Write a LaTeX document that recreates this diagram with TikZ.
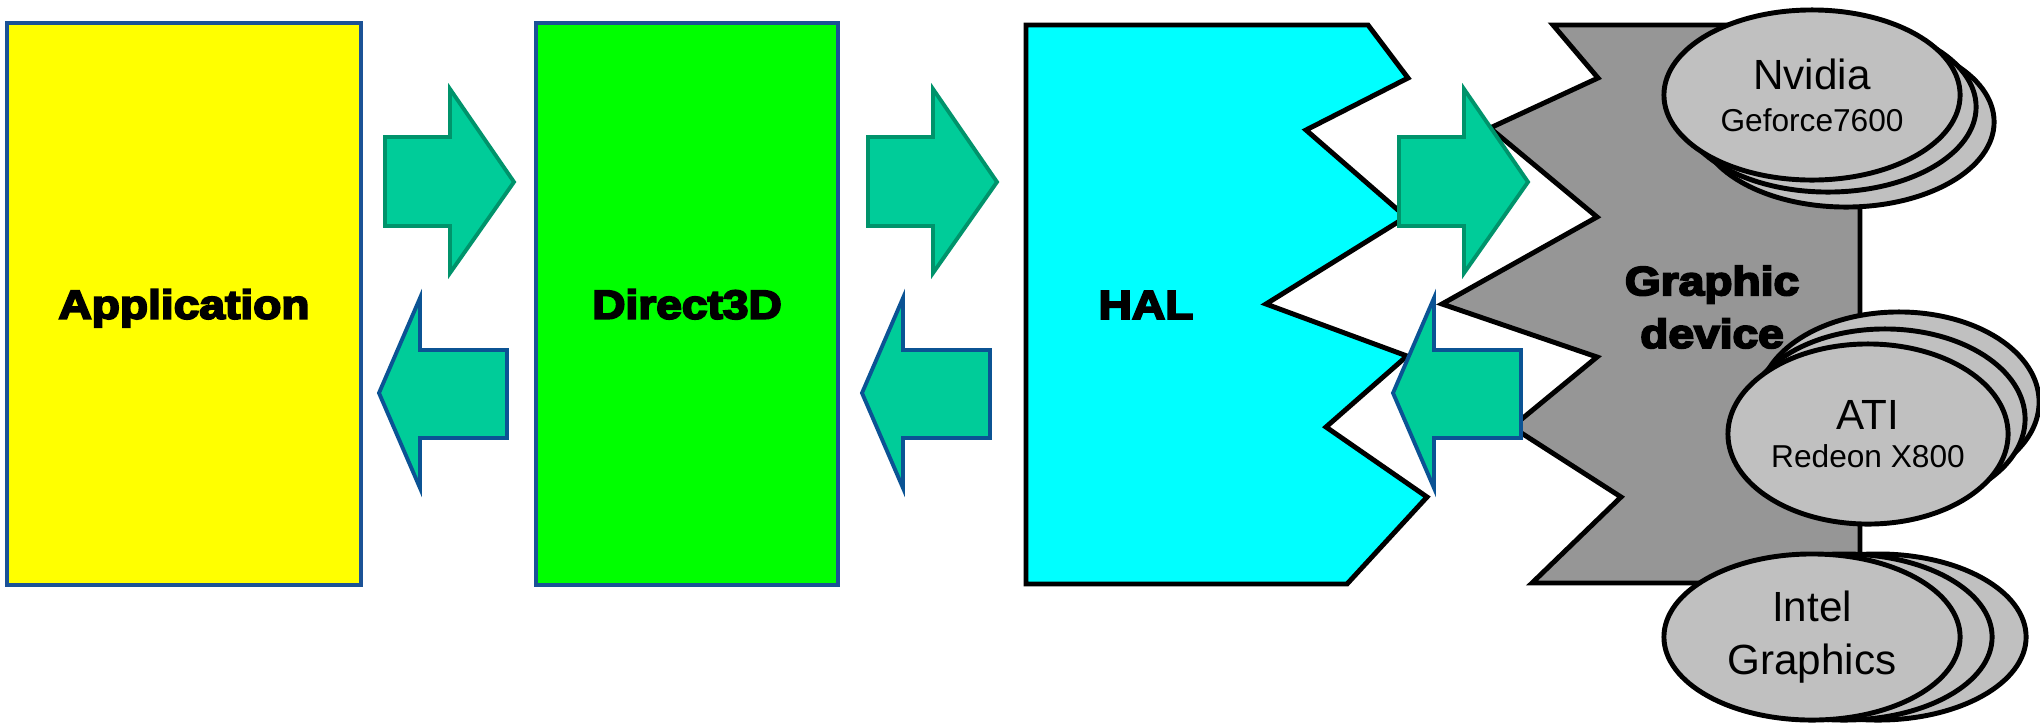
\documentclass[tikz,border=0pt]{standalone}
\usepackage{fontspec}
\setmainfont{Liberation Sans}
\newfontfamily\heavyfont[FakeBold=5,FakeStretch=1.14]{Liberation Sans Bold}
\usepackage{xcolor}
\definecolor{appyellow}{HTML}{FFFF00}
\definecolor{apigreen}{HTML}{00FF00}
\definecolor{halcyan}{HTML}{00FFFF}
\definecolor{devgray}{HTML}{969696}
\definecolor{chipgray}{HTML}{C0C0C0}
\definecolor{flowfill}{HTML}{00CC99}
\definecolor{flowdown}{HTML}{00936B}
\definecolor{flowup}{HTML}{0B5394}
\definecolor{edgeblue}{HTML}{1B5296}
\usepackage{tikz}
\usetikzlibrary{shapes.geometric}
\tikzset{
  blk/.style={draw=edgeblue,line width=1.3pt,inner sep=0pt,minimum height=5.62cm,text depth=0pt,
    font=\heavyfont\fontsize{11.5}{15}\selectfont},
  zig/.style={draw=black,line width=1.4pt,line join=miter},
  hdr/.style={font=\heavyfont\fontsize{11.5}{15}\selectfont,align=center,inner sep=0pt},
  flow/.style={fill=flowfill,line width=1.1pt,line join=miter},
  flowr/.style={flow,draw=flowdown},
  flowl/.style={flow,draw=flowup},
  chip/.style={ellipse,draw=black,fill=chipgray,line width=1.4pt,inner sep=0pt,
    minimum width=2.96cm,minimum height=1.68cm,align=center,font=\fontsize{12}{12}\selectfont},
}

\begin{document}
\begin{tikzpicture}[x=0.01cm,y=-0.01cm]
  \useasboundingbox (0,0) rectangle (2040,724);
  % software layers
  \node[blk,fill=appyellow,minimum width=3.54cm] (app) at (184,304) {Application};
  \node[blk,fill=apigreen,minimum width=3.02cm] (d3d) at (687,304) {Direct3D};
  % hardware abstraction layer, torn right edge
  \draw[zig,fill=halcyan] (1026,25) -- (1368,25) -- (1408,78) -- (1306,130) -- (1406,217)
    -- (1266,304) -- (1407,356) -- (1326,427) -- (1427,497) -- (1347,584) -- (1026,584) -- cycle;
  \node[hdr] (hal) at (1146,305) {HAL};
  % device, torn left edge
  \draw[zig,fill=devgray] (1553,25) -- (1860,25) -- (1860,583) -- (1532,583) -- (1621,497)
    -- (1512,427) -- (1597,357) -- (1442,304) -- (1597,217) -- (1490,128) -- (1598,78) -- cycle;
  \node[hdr] (dev) at (1712,307) {Graphic\\device};
  % calls down, results back up
  \foreach \dx in {0,483,1014}{
    \draw[flowr,shift={(\dx,0)}] (385,137) -- (450,137) -- (450,89) -- (514,182)
      -- (450,273) -- (450,226) -- (385,226) -- cycle;
    \draw[flowl,shift={(\dx,0)}] (379,393) -- (420,298) -- (420,350) -- (507,350)
      -- (507,438) -- (420,438) -- (420,488) -- cycle;
  }
  % boards
  \node[chip,minimum height=1.70cm] (nv3) at (1846,122) {};
  \node[chip,minimum height=1.70cm] (nv2) at (1828,107) {};
  \node[chip,minimum height=1.70cm] (nv) at (1812,95) {Nvidia\\{\fontsize{9}{11}\selectfont Geforce7600}};
  \node[chip,minimum width=2.80cm,minimum height=1.80cm] (ati3) at (1899,402) {};
  \node[chip,minimum width=2.80cm,minimum height=1.80cm] (ati2) at (1885,419) {};
  \node[chip,minimum width=2.80cm,minimum height=1.80cm] (ati) at (1868,434) {ATI\\[-1pt]{\fontsize{9}{11}\selectfont Redeon X800}};
  \node[chip,minimum height=1.66cm] (intel3) at (1878,637) {};
  \node[chip,minimum height=1.66cm] (intel2) at (1844,637) {};
  \node[chip,minimum height=1.66cm] (intel) at (1812,637) {Intel\\[3pt]Graphics};
\end{tikzpicture}
\end{document}
